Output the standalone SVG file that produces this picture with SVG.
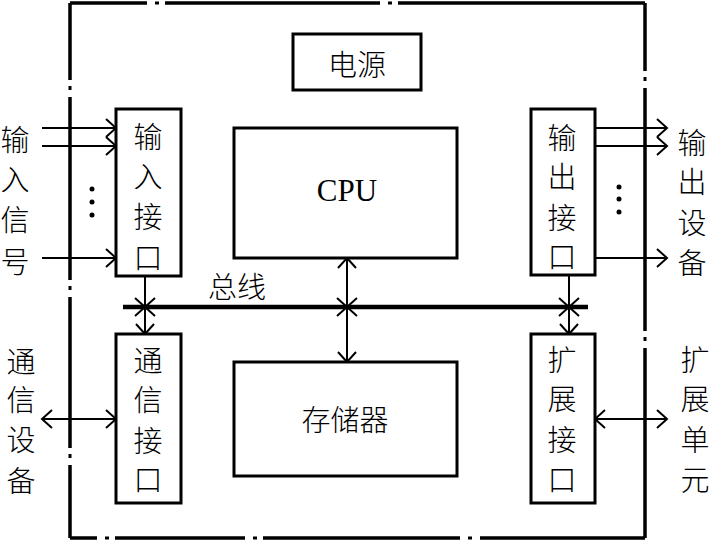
<svg xmlns="http://www.w3.org/2000/svg" width="712" height="542" viewBox="0 0 712 542">
<style>
.bd{fill:none;stroke:#000;stroke-width:3.5}
.box{fill:#fff;stroke:#000;stroke-width:3}
.ln{fill:none;stroke:#000;stroke-width:2}
.ah{fill:none;stroke:#000;stroke-width:2}
.bus{stroke:#000;stroke-width:4.5}
.t{font-family:"Noto Sans CJK SC","Noto Sans CJK TC",sans-serif;font-size:29px;fill:#000;text-anchor:middle;dominant-baseline:central;font-weight:300}
.cpu{font-family:"Liberation Serif",serif;font-size:31px;fill:#000;text-anchor:middle;dominant-baseline:central}
.dot{fill:#000}
</style>
<defs>
<path id="ar" d="M-10,-9 L0,0 L-10,9" class="ah"/>
<path id="xx" d="M-10,-9 L10,9 M-10,9 L10,-9" class="ah"/>
</defs>
<g id="frame">
<path class="bd" d="M70,3 H147 M165,3 H380 M398,3 H645 M70,538 H97 M115,538 H245 M263,538 H460 M480,538 H645 M70,3 V80 M70,97 V280 M70,297 V448 M70,465 V538 M645,3 V71 M645,88 V331 M645,348 V538"/>
<rect class="dot" x="155" y="1.5" width="4" height="3"/>
<rect class="dot" x="388" y="1.5" width="4" height="3"/>
<rect class="dot" x="105" y="536.5" width="4" height="3"/>
<rect class="dot" x="253" y="536.5" width="4" height="3"/>
<rect class="dot" x="468" y="536.5" width="4" height="3"/>
<rect class="dot" x="68.5" y="86" width="3" height="4"/>
<rect class="dot" x="68.5" y="286" width="3" height="4"/>
<rect class="dot" x="68.5" y="454" width="3" height="4"/>
<rect class="dot" x="643.5" y="77" width="3" height="4"/>
<rect class="dot" x="643.5" y="337" width="3" height="4"/>
</g>
<g id="connectors">
<line class="bus" x1="123" y1="307" x2="588" y2="307"/>
<text class="t" x="237" y="285">总线</text>
<line class="ln" x1="42" y1="128" x2="116" y2="128"/>
<line class="ln" x1="42" y1="146" x2="116" y2="146"/>
<line class="ln" x1="42" y1="258" x2="116" y2="258"/>
<use href="#ar" x="116" y="128"/>
<use href="#ar" x="116" y="146"/>
<use href="#ar" x="116" y="258"/>
<circle class="dot" cx="92" cy="189" r="2.5"/>
<circle class="dot" cx="92" cy="202" r="2.5"/>
<circle class="dot" cx="92" cy="215" r="2.5"/>
<line class="ln" x1="595" y1="128" x2="667" y2="128"/>
<line class="ln" x1="595" y1="146" x2="667" y2="146"/>
<line class="ln" x1="595" y1="258" x2="667" y2="258"/>
<use href="#ar" x="667" y="128"/>
<use href="#ar" x="667" y="146"/>
<use href="#ar" x="667" y="258"/>
<circle class="dot" cx="619" cy="187" r="2.5"/>
<circle class="dot" cx="619" cy="199" r="2.5"/>
<circle class="dot" cx="619" cy="212" r="2.5"/>
<line class="ln" x1="42" y1="419" x2="116" y2="419"/>
<use href="#ar" x="116" y="419"/>
<use href="#ar" transform="translate(42,419) rotate(180)"/>
<line class="ln" x1="595" y1="419" x2="667" y2="419"/>
<use href="#ar" x="667" y="419"/>
<use href="#ar" transform="translate(595,419) rotate(180)"/>
<line class="ln" x1="145" y1="276" x2="145" y2="334"/>
<use href="#xx" x="145" y="307"/>
<use href="#ar" transform="translate(145,334) rotate(90)"/>
<line class="ln" x1="347" y1="258" x2="347" y2="362"/>
<use href="#xx" x="347" y="307"/>
<use href="#ar" transform="translate(347,258) rotate(-90)"/>
<use href="#ar" transform="translate(347,362) rotate(90)"/>
<line class="ln" x1="569" y1="275" x2="569" y2="334"/>
<use href="#xx" x="569" y="307"/>
<use href="#ar" transform="translate(569,334) rotate(90)"/>
</g>
<g id="power">
<rect class="box" x="293" y="34" width="128" height="56"/>
<text class="t" x="357" y="63">电源</text>
</g>
<g id="cpu">
<rect class="box" x="234" y="128" width="223" height="130"/>
<text class="cpu" x="347" y="190">CPU</text>
</g>
<g id="memory">
<rect class="box" x="234" y="362" width="223" height="114"/>
<text class="t" x="345" y="418">存储器</text>
</g>
<g id="input-if">
<rect class="box" x="116" y="109" width="65" height="167"/>
<text class="t" x="148" y="135">输</text>
<text class="t" x="148" y="175">入</text>
<text class="t" x="148" y="215">接</text>
<text class="t" x="148" y="256">口</text>
</g>
<g id="output-if">
<rect class="box" x="531" y="109" width="64" height="166"/>
<text class="t" x="562" y="136">输</text>
<text class="t" x="562" y="175">出</text>
<text class="t" x="562" y="216">接</text>
<text class="t" x="562" y="255">口</text>
</g>
<g id="comm-if">
<rect class="box" x="116" y="334" width="65" height="169"/>
<text class="t" x="148" y="359">通</text>
<text class="t" x="148" y="398">信</text>
<text class="t" x="148" y="439">接</text>
<text class="t" x="148" y="478">口</text>
</g>
<g id="exp-if">
<rect class="box" x="531" y="334" width="64" height="169"/>
<text class="t" x="562" y="358">扩</text>
<text class="t" x="562" y="397">展</text>
<text class="t" x="562" y="438">接</text>
<text class="t" x="562" y="478">口</text>
</g>
<g id="input-signal">
<text class="t" x="15" y="138">输</text>
<text class="t" x="15" y="178">入</text>
<text class="t" x="15" y="218">信</text>
<text class="t" x="15" y="260">号</text>
</g>
<g id="comm-dev">
<text class="t" x="21" y="360">通</text>
<text class="t" x="21" y="398">信</text>
<text class="t" x="21" y="438">设</text>
<text class="t" x="21" y="479">备</text>
</g>
<g id="output-dev">
<text class="t" x="692" y="141">输</text>
<text class="t" x="692" y="180">出</text>
<text class="t" x="692" y="221">设</text>
<text class="t" x="692" y="261">备</text>
</g>
<g id="exp-unit">
<text class="t" x="695" y="358">扩</text>
<text class="t" x="695" y="397">展</text>
<text class="t" x="695" y="438">单</text>
<text class="t" x="695" y="478">元</text>
</g>
</svg>
